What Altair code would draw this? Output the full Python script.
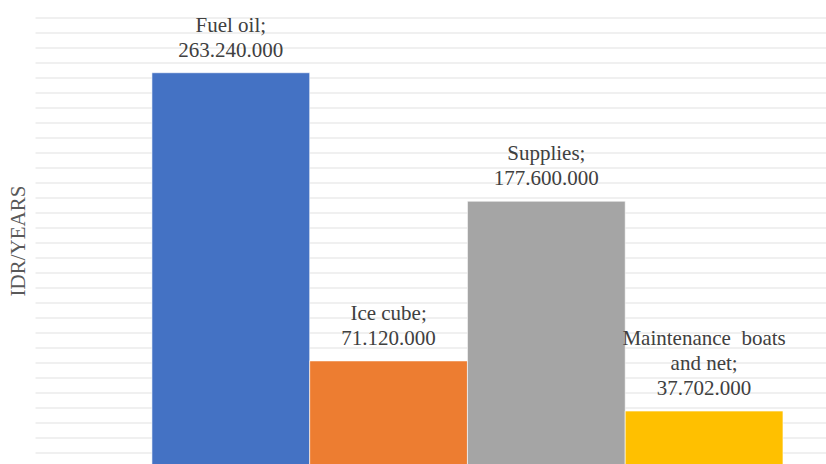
import altair as alt
import pandas as pd

categories = ["Fuel oil", "Ice cube", "Supplies", "Maintenance boats and net"]
values = [263240000, 71120000, 177600000, 37702000]
value_labels = ["263.240.000", "71.120.000", "177.600.000", "37.702.000"]
name_line_1 = ["Fuel oil;", "Ice cube;", "Supplies;", "and net;"]
name_line_2 = ["", "", "", "Maintenance\u00a0 boats"]
colors = ["#4472C4", "#ED7D31", "#A5A5A5", "#FFC000"]
grid_ticks = [i * 10000000 for i in range(1, 31)]

df = pd.DataFrame({"cat": categories, "value": values, "vlab": value_labels,
                   "n1": name_line_1, "n2": name_line_2})

x_scale = alt.Scale(paddingInner=0, paddingOuter=0.507, align=0.731)
y_scale = alt.Scale(domain=[2400000, 300000000], zero=False, nice=False)
y_axis = alt.Axis(title="IDR/YEARS", values=grid_ticks, labels=False, ticks=False,
                  domain=False, grid=True, gridColor="#EBEBEB", gridWidth=1.5,
                  titleFont="Liberation Serif", titleFontSize=21, titleFontWeight="normal",
                  titleColor="#595959", titleAngle=-90, titleX=-17, titleY=223,
                  titleAlign="center", titleBaseline="middle")

bars = alt.Chart(df).mark_bar(clip=True, stroke="white", strokeWidth=0.6).encode(
    x=alt.X("cat:N", sort=categories, axis=None, scale=x_scale),
    y=alt.Y("value:Q", scale=y_scale, axis=y_axis),
    color=alt.Color("cat:N", sort=categories,
                    scale=alt.Scale(domain=categories, range=colors), legend=None),
)


def text_layer(field, dy):
    return alt.Chart(df).mark_text(
        font="Liberation Serif", fontSize=21, color="#404040", baseline="alphabetic",
        dy=dy, align="center"
    ).encode(
        x=alt.X("cat:N", sort=categories, axis=None, scale=x_scale),
        y=alt.Y("value:Q", scale=y_scale, axis=y_axis),
        text=f"{field}:N",
    )


chart = alt.layer(
    bars,
    text_layer("vlab", -16),
    text_layer("n1", -41),
    text_layer("n2", -66),
).properties(
    width=791, height=446.4,
    autosize=alt.AutoSizeParams(type="none"),
    padding={"left": 35, "top": 17.6, "right": 0, "bottom": 0},
).configure_view(stroke=None)

chart.save("out.html", embed_options={"renderer": "svg", "actions": False})
